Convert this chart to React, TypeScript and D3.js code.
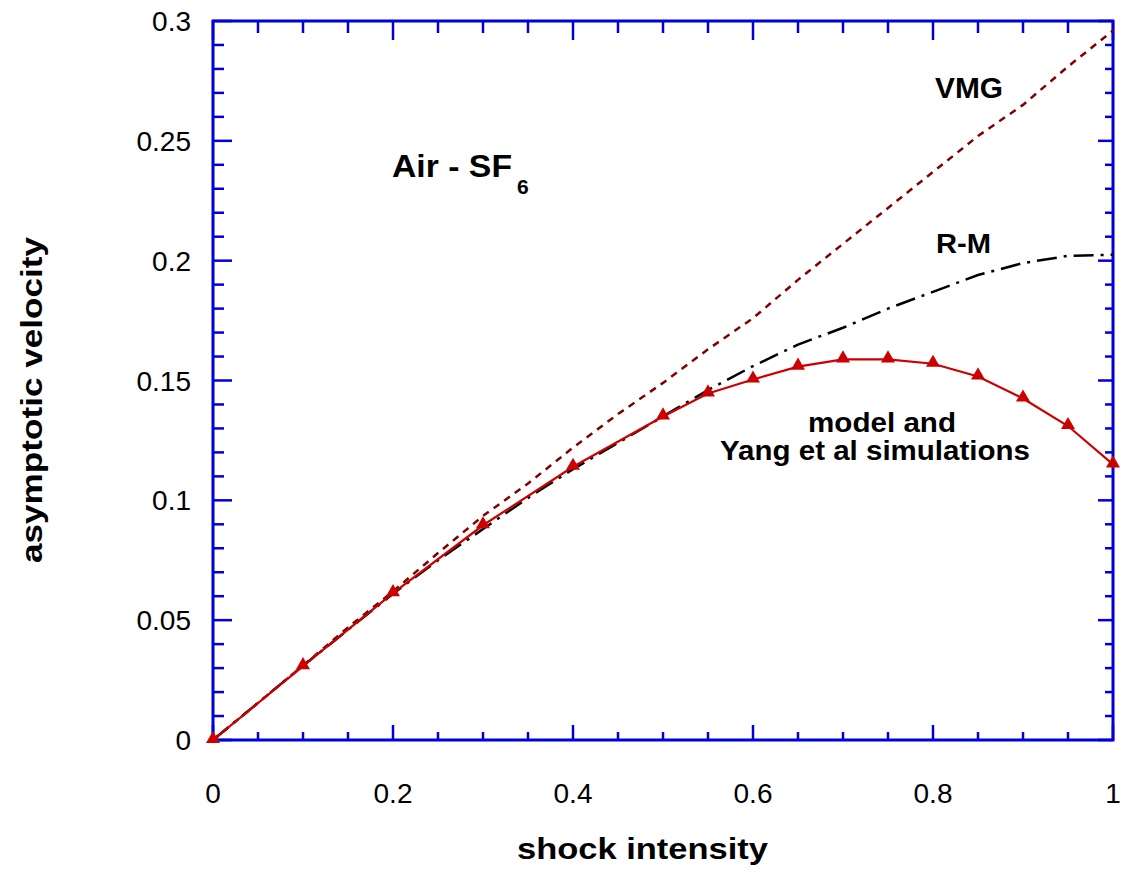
import React from 'react';
import * as d3 from 'd3';

// shock intensity sample points
const modelX = [0, 0.1, 0.2, 0.3, 0.4, 0.5, 0.55, 0.6, 0.65, 0.7, 0.75, 0.8, 0.85, 0.9, 0.95, 1.0];
const modelY = [0, 0.0308, 0.0613, 0.0896, 0.114, 0.135, 0.1446, 0.1504, 0.1558, 0.1588, 0.1588, 0.157, 0.1517, 0.1425, 0.131, 0.115];

const curveX = [0, 0.05, 0.1, 0.15, 0.2, 0.25, 0.3, 0.35, 0.4, 0.45, 0.5, 0.55, 0.6, 0.65, 0.7, 0.75, 0.8, 0.85, 0.9, 0.95, 1.0];
const vmgY = [0, 0.0155, 0.031, 0.047, 0.062, 0.078, 0.0935, 0.107, 0.122, 0.136, 0.149, 0.163, 0.176, 0.192, 0.207, 0.222, 0.237, 0.252, 0.265, 0.281, 0.296];
const rmY = [0, 0.0155, 0.031, 0.046, 0.061, 0.075, 0.088, 0.101, 0.113, 0.124, 0.135, 0.146, 0.156, 0.165, 0.172, 0.18, 0.187, 0.194, 0.199, 0.202, 0.2025];

const xTickLabels = ['0', '0.2', '0.4', '0.6', '0.8', '1'];
const yTickLabels = ['0', '0.05', '0.1', '0.15', '0.2', '0.25', '0.3'];

const W = 1124;
const H = 874;
const left = 213;
const right = 1113;
const top = 21;
const bottom = 740;
const BLUE = '#0000d8';
const FONT = 'Liberation Sans, Arial, Helvetica, sans-serif';

const App = () => {
  const x = d3.scaleLinear().domain([0, 1]).range([left, right]);
  const y = d3.scaleLinear().domain([0, 0.3]).range([bottom, top]);

  const line = (xs: number[], ys: number[]) =>
    d3.line<number>().x((d, i) => x(xs[i])).y((d) => y(d))(ys) || '';

  const xMinor = d3.range(0, 1.0001, 0.05);
  const yMinor = d3.range(0, 0.3001, 0.01);
  const isXMajor = (v: number) => Math.abs(v * 5 - Math.round(v * 5)) < 1e-6;
  const isYMajor = (v: number) => Math.abs(v * 20 - Math.round(v * 20)) < 1e-6;

  const tri = d3.symbol().type(d3.symbolTriangle).size(85)() || '';

  const bold = { fontFamily: FONT, fontWeight: 700, fill: '#000' } as const;

  return (
    <svg width={W} height={H} style={{ position: 'absolute', left: 0, top: 0, background: '#fff' }}>
      {/* ticks */}
      <g stroke={BLUE} strokeWidth={2.5}>
        {xMinor.map((v, i) => {
          const maj = isXMajor(v);
          return (
            <g key={'xt' + i}>
              <line x1={x(v)} x2={x(v)} y1={bottom} y2={bottom - (maj ? 15 : 8)} />
              <line x1={x(v)} x2={x(v)} y1={top} y2={top + (maj ? 19 : 12)} />
            </g>
          );
        })}
        {yMinor.map((v, i) => {
          const maj = isYMajor(v);
          return (
            <g key={'yt' + i}>
              <line x1={left} x2={left + (maj ? 19 : 11)} y1={y(v)} y2={y(v)} />
              <line x1={right} x2={right - (maj ? 15 : 8)} y1={y(v)} y2={y(v)} />
            </g>
          );
        })}
      </g>
      <rect x={left} y={top} width={right - left} height={bottom - top} fill="none" stroke={BLUE} strokeWidth={3} />

      {/* tick labels */}
      <g style={{ fontFamily: FONT, fontSize: 28 }} fill="#000">
        {xTickLabels.map((t) => (
          <text key={'xl' + t} x={x(+t)} y={803} textAnchor="middle">{t}</text>
        ))}
        {yTickLabels.map((t) => (
          <text key={'yl' + t} x={191} y={y(+t) + 10} textAnchor="end">{t}</text>
        ))}
      </g>

      {/* curves */}
      <path d={line(curveX, vmgY)} fill="none" stroke="#800000" strokeWidth={2.5} strokeDasharray="7,6" />
      <path d={line(curveX, rmY)} fill="none" stroke="#000" strokeWidth={2.5} strokeDasharray="20,7,3,7" />
      <path d={line(modelX, modelY)} fill="none" stroke="#cc0000" strokeWidth={2.2} />
      {modelX.map((v, i) => (
        <path key={'m' + i} d={tri} transform={`translate(${x(v)},${y(modelY[i]) - 1})`} fill="#cc0000" />
      ))}

      {/* annotations */}
      <text x={392} y={177} style={{ ...bold, fontSize: 32 }} textLength={120} lengthAdjust="spacingAndGlyphs">Air - SF</text>
      <text x={517} y={194} style={{ ...bold, fontSize: 21 }}>6</text>
      <text x={935} y={98} style={{ ...bold, fontSize: 29 }} textLength={68} lengthAdjust="spacingAndGlyphs">VMG</text>
      <text x={936} y={253} style={{ ...bold, fontSize: 27 }} textLength={55} lengthAdjust="spacingAndGlyphs">R-M</text>
      <text x={808} y={432} style={{ ...bold, fontSize: 27 }} textLength={148} lengthAdjust="spacingAndGlyphs">model and</text>
      <text x={720} y={460} style={{ ...bold, fontSize: 27 }} textLength={310} lengthAdjust="spacingAndGlyphs">Yang et al simulations</text>

      {/* axis titles */}
      <text x={517} y={859} style={{ ...bold, fontSize: 30 }} textLength={251} lengthAdjust="spacingAndGlyphs">shock intensity</text>
      <text transform="translate(42,563) rotate(-90)" style={{ ...bold, fontSize: 30 }} textLength={326} lengthAdjust="spacingAndGlyphs">asymptotic velocity</text>
    </svg>
  );
};

export default App;
